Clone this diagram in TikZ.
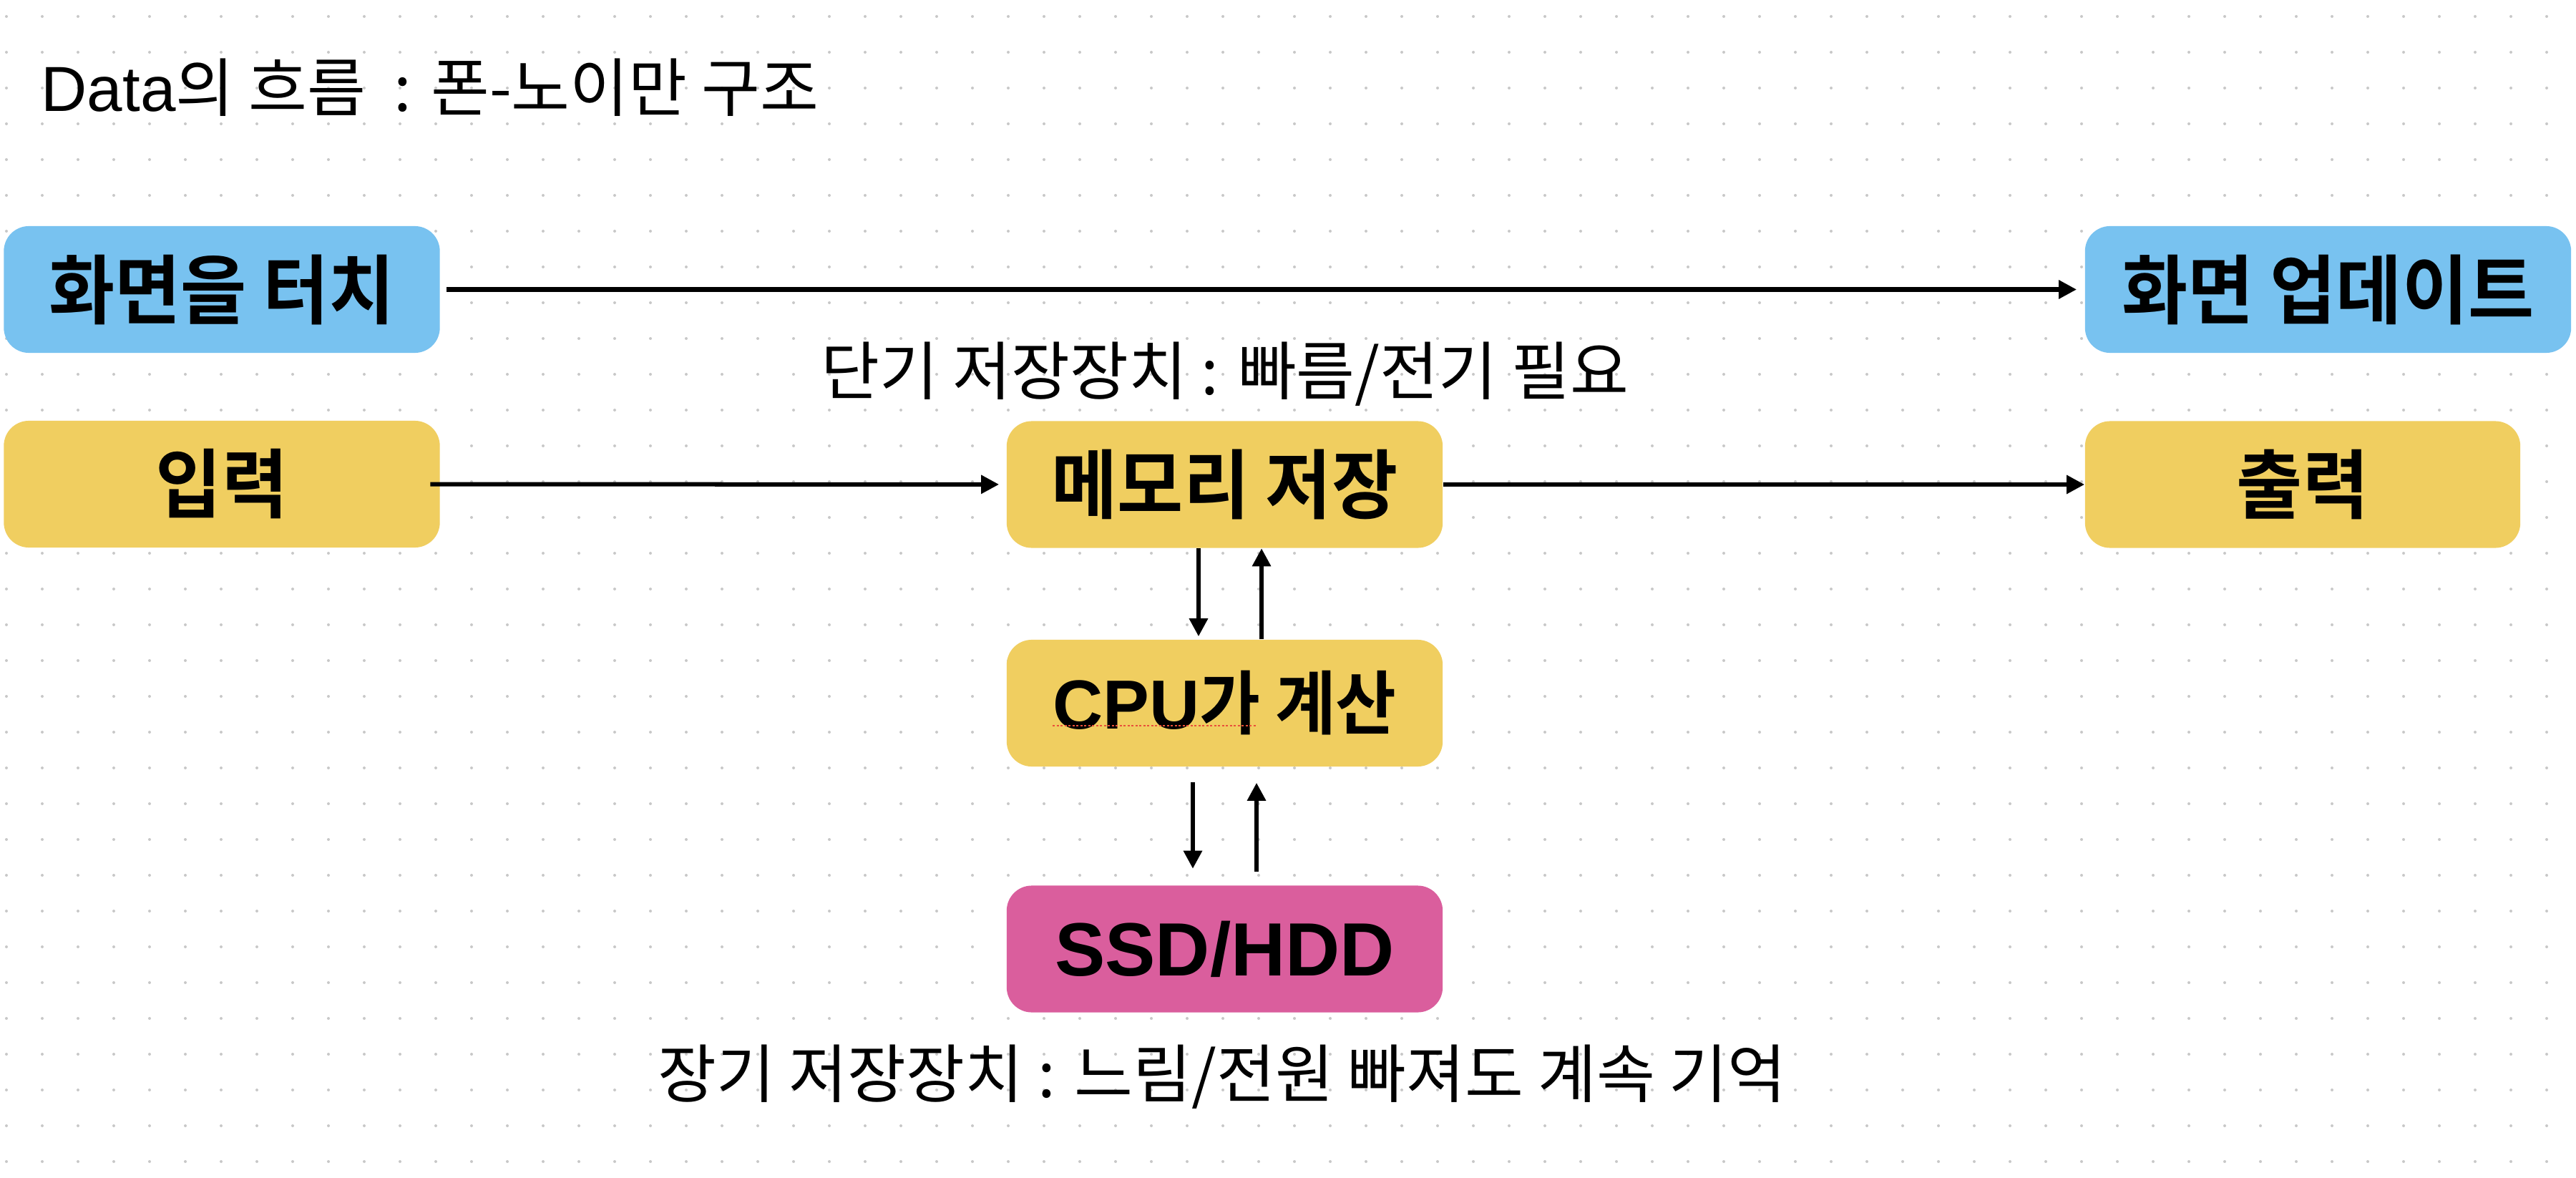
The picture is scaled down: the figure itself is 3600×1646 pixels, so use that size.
\documentclass[tikz,border=0pt]{standalone}
\usepackage{fontspec}
\setmainfont{Noto Sans CJK KR}
\newfontfamily\notekor{Noto Sans CJK KR}
\newfontfamily\boxkor{Noto Sans CJK KR Bold}[FakeStretch=0.95]
\newfontfamily\latin{Liberation Sans}
\usetikzlibrary{arrows.meta}

\definecolor{touchblue}{RGB}{120,194,240}
\definecolor{unityellow}{RGB}{240,206,96}
\definecolor{storepink}{RGB}{218,94,157}
\definecolor{gridgray}{RGB}{200,200,200}
\definecolor{spellred}{RGB}{232,80,58}

\tikzset{
    box/.style={rounded corners=0.35cm, minimum width=6.09cm, minimum height=1.77cm,
        inner sep=0pt, text=black, font=\boxkor\fontsize{30}{36}\selectfont},
    bluebox/.style={box, fill=touchblue},
    yellowbox/.style={box, fill=unityellow},
    pinkbox/.style={box, fill=storepink},
    note/.style={inner sep=0pt, font=\notekor\fontsize{25.3}{30}\selectfont},
    flow/.style={line width=0.06cm, -{Triangle[length=0.25cm,width=0.25cm]}},
}

\begin{document}
\begin{tikzpicture}[x=0.01cm, y=-0.01cm]
    \useasboundingbox (0,0) rectangle (3600,1646);
    \fill [white] (0,0) rectangle (3600,1646);

    % Dot grid in the background
    \fill [gridgray] \foreach \i in {0,...,71} {
        \foreach \j in {0,...,32} { ({9+50*\i},{23+50*\j}) circle [radius=0.02cm] }
    };

    \node [note, anchor=west] (Title) at (57,122)
        {{\latin Data}의 흐름\ \ : 폰-노이만 구조};

    % Boxes
    \node [bluebox] (Touch)  at (310,404.5)  {화면을 터치};
    \node [bluebox, minimum width=6.79cm] (Update) at (3253.5,404.5) {화면 업데이트};
    \node [yellowbox] (Input)  at (310,676.5)  {입력};
    \node [yellowbox] (Memory) at (1711.5,677) {메모리 저장};
    \node [yellowbox, minimum width=6.08cm] (Output) at (3218,677) {출력};
    \node [yellowbox, font=\boxkor\fontsize{27.6}{33}\selectfont] (Cpu) at (1711.5,982.5)
        {{\latin\bfseries CPU}가 계산};
    \node [pinkbox] (Storage) at (1711.5,1326) {{\latin\bfseries SSD/HDD}};

    % Notes on the two kinds of memory
    \node [note] (ShortNote) at (1712,523)  {단기 저장장치 : 빠름/전기 필요};
    \node [note] (LongNote)  at (1708,1505) {장기 저장장치 : 느림/전원 빠져도 계속 기억};

    % Spell check underline
    \draw [spellred, line width=0.025cm, dash pattern=on 0.03cm off 0.025cm]
        (1471,1014) -- (1755,1014);

    % Draw the flow
    \draw [flow, shorten <=0.09cm, shorten >=0.11cm] (Touch) -- (Update);
    \draw [flow, shorten <=-0.14cm, shorten >=0.1cm] (Input) -- (Memory);
    \draw [flow] (Memory) -- (Output);

    \draw [flow, shorten >=0.04cm] ([xshift=-0.365cm]Memory.south) -- ([xshift=-0.365cm]Cpu.north);
    \draw [flow] ([xshift=0.515cm]Cpu.north) -- ([xshift=0.515cm]Memory.south);
    \draw [flow, shorten <=0.21cm, shorten >=0.23cm] ([xshift=-0.445cm]Cpu.south) -- ([xshift=-0.445cm]Storage.north);
    \draw [flow, shorten <=0.19cm, shorten >=0.22cm] ([xshift=0.445cm]Storage.north) -- ([xshift=0.445cm]Cpu.south);
\end{tikzpicture}
\end{document}
